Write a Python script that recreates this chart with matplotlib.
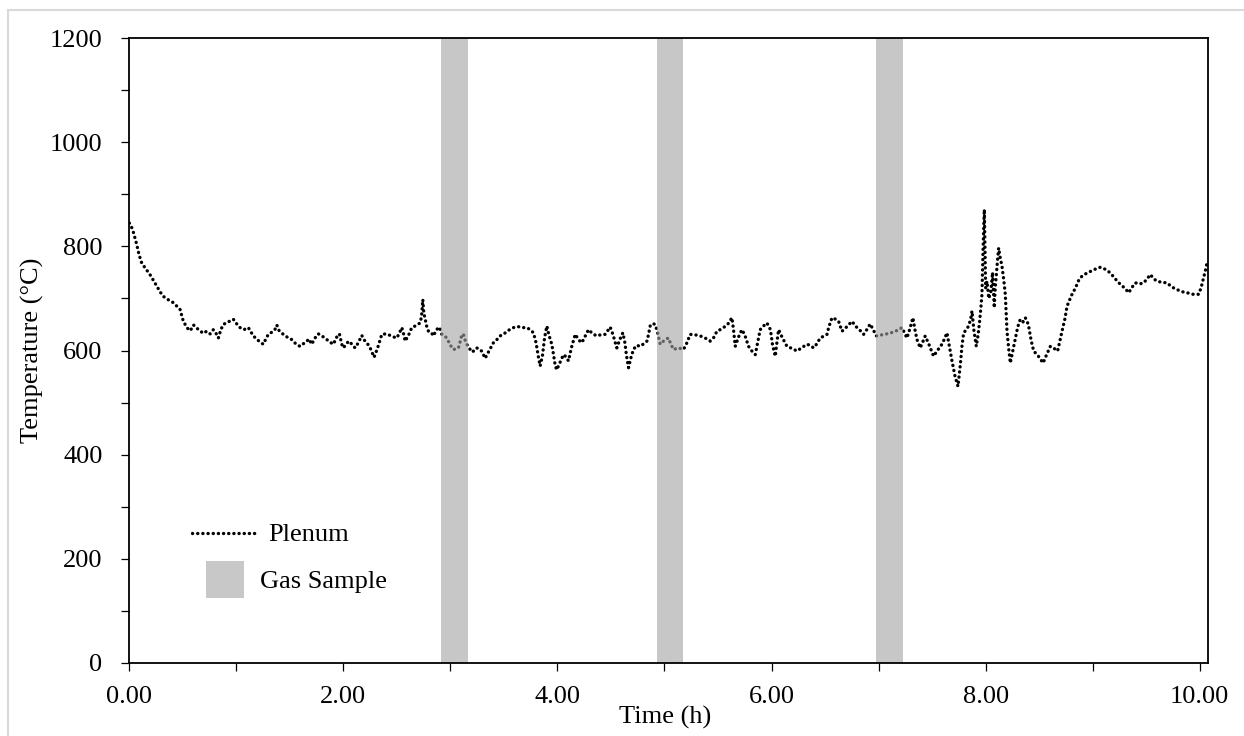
import matplotlib
matplotlib.use("Agg")
import matplotlib.pyplot as plt
from matplotlib.patches import Rectangle
from matplotlib.lines import Line2D
from matplotlib.ticker import MultipleLocator, FormatStrFormatter

plt.rcParams['font.family'] = ['Liberation Serif', 'DejaVu Serif']

time_h = [0.00, 0.013, 0.04, 0.069, 0.09, 0.116, 0.15, 0.193, 0.225, 0.256, 0.29, 0.318, 0.36, 0.411, 0.445,
          0.474, 0.505, 0.542, 0.57, 0.60, 0.63, 0.661, 0.69, 0.723, 0.755, 0.785, 0.81, 0.832, 0.855, 0.879,
          0.92, 0.95, 0.972, 1.00, 1.035, 1.07, 1.112, 1.135, 1.159, 1.20, 1.23, 1.252, 1.275, 1.299, 1.33,
          1.36, 1.378, 1.40, 1.439, 1.48, 1.518, 1.55, 1.575, 1.596, 1.62, 1.658, 1.68, 1.704, 1.735, 1.766,
          1.80, 1.845, 1.875, 1.907, 1.935, 1.963, 1.985, 2.00, 2.025, 2.05, 2.08, 2.109, 2.14, 2.172, 2.195,
          2.219, 2.25, 2.287, 2.32, 2.359, 2.40, 2.437, 2.47, 2.499, 2.52, 2.546, 2.565, 2.577, 2.61, 2.639,
          2.68, 2.717, 2.73, 2.742, 2.752, 2.764, 2.78, 2.795, 2.82, 2.841, 2.87, 2.897, 2.92, 2.945, 2.966,
          3.00, 3.028, 3.05, 3.075, 3.095, 3.107, 3.122, 3.14, 3.153, 3.184, 3.20, 3.225, 3.247, 3.27, 3.293,
          3.324, 3.35, 3.375, 3.402, 3.43, 3.464, 3.495, 3.53, 3.56, 3.589, 3.63, 3.67, 3.714, 3.745, 3.776,
          3.80, 3.82, 3.838, 3.86, 3.88, 3.901, 3.92, 3.947, 3.965, 3.98, 3.994, 4.02, 4.056, 4.08, 4.103,
          4.13, 4.166, 4.20, 4.228, 4.26, 4.29, 4.33, 4.368, 4.40, 4.446, 4.47, 4.493, 4.52, 4.54, 4.555,
          4.58, 4.611, 4.63, 4.645, 4.664, 4.685, 4.71, 4.74, 4.773, 4.80, 4.836, 4.85, 4.866, 4.89, 4.913,
          4.935, 4.96, 5.00, 5.037, 5.06, 5.084, 5.13, 5.178, 5.21, 5.24, 5.29, 5.334, 5.38, 5.427, 5.46,
          5.49, 5.52, 5.551, 5.59, 5.63, 5.645, 5.661, 5.69, 5.723, 5.75, 5.785, 5.82, 5.848, 5.87, 5.894,
          5.93, 5.957, 5.99, 6.01, 6.035, 6.05, 6.066, 6.10, 6.144, 6.19, 6.238, 6.28, 6.331, 6.36, 6.393,
          6.42, 6.455, 6.49, 6.518, 6.535, 6.565, 6.60, 6.627, 6.658, 6.70, 6.751, 6.775, 6.798, 6.83, 6.86,
          6.89, 6.922, 6.95, 6.979, 7.03, 7.078, 7.15, 7.219, 7.24, 7.265, 7.29, 7.321, 7.34, 7.359, 7.389,
          7.41, 7.436, 7.47, 7.514, 7.55, 7.592, 7.615, 7.639, 7.66, 7.686, 7.715, 7.742, 7.764, 7.78, 7.795,
          7.82, 7.841, 7.86, 7.873, 7.89, 7.913, 7.93, 7.944, 7.955, 7.966, 7.977, 7.988, 7.995, 8.00, 8.013,
          8.03, 8.05, 8.065, 8.081, 8.09, 8.10, 8.112, 8.122, 8.135, 8.153, 8.17, 8.184, 8.20, 8.215, 8.231,
          8.25, 8.278, 8.30, 8.324, 8.35, 8.371, 8.39, 8.402, 8.425, 8.449, 8.49, 8.537, 8.57, 8.605, 8.64,
          8.673, 8.69, 8.714, 8.74, 8.761, 8.80, 8.839, 8.87, 8.901, 8.94, 8.979, 9.02, 9.072, 9.12, 9.166,
          9.21, 9.259, 9.30, 9.337, 9.37, 9.399, 9.44, 9.477, 9.51, 9.539, 9.57, 9.602, 9.65, 9.695, 9.74,
          9.789, 9.835, 9.882, 9.94, 9.991, 10.015, 10.037, 10.055, 10.069]

plenum_temp = [845, 842, 826, 804, 785, 768, 758, 746, 735, 724, 712, 704, 698, 692, 685,
               679, 656, 643, 638, 649, 643, 638, 633, 637, 632, 640, 633, 624, 640, 650,
               655, 657, 660, 652, 644, 640, 644, 636, 628, 620, 615, 612, 622, 631, 635,
               640, 649, 638, 631, 625, 621, 614, 610, 608, 612, 618, 622, 612, 624, 632,
               628, 621, 616, 612, 625, 632, 612, 605, 612, 618, 612, 605, 615, 629, 620,
               615, 605, 587, 605, 631, 632, 629, 626, 624, 632, 644, 630, 618, 630, 644,
               648, 653, 665, 698, 672, 660, 645, 637, 635, 628, 640, 645, 631, 628, 624,
               610, 602, 603, 605, 620, 631, 631, 618, 612, 602, 597, 600, 605, 601, 599,
               585, 595, 605, 615, 620, 628, 631, 637, 641, 644, 646, 644, 644, 640, 634,
               615, 590, 570, 590, 625, 647, 630, 612, 590, 570, 563, 575, 592, 588, 580,
               605, 631, 620, 615, 628, 640, 632, 628, 630, 631, 638, 645, 630, 615, 605,
               620, 634, 615, 590, 567, 585, 602, 610, 608, 612, 618, 630, 647, 652, 650,
               635, 612, 620, 624, 612, 602, 605, 602, 615, 631, 630, 628, 624, 618, 625,
               637, 640, 644, 650, 663, 640, 608, 625, 640, 630, 608, 598, 592, 615, 640,
               648, 653, 640, 610, 589, 615, 640, 625, 608, 604, 599, 605, 612, 610, 605,
               612, 624, 628, 631, 645, 663, 660, 656, 637, 645, 656, 650, 644, 638, 631,
               640, 651, 640, 628, 630, 632, 636, 644, 635, 624, 640, 663, 640, 621, 605,
               615, 628, 612, 589, 600, 612, 622, 634, 610, 580, 550, 531, 573, 610, 634,
               640, 647, 660, 676, 640, 608, 630, 656, 680, 708, 800, 871, 790, 720, 733,
               700, 714, 750, 682, 720, 746, 775, 797, 780, 762, 735, 708, 637, 605, 576,
               595, 624, 645, 660, 655, 663, 655, 647, 620, 599, 590, 576, 592, 608, 604,
               599, 615, 637, 660, 685, 705, 720, 735, 743, 748, 752, 756, 760, 756, 749,
               738, 727, 720, 711, 722, 730, 728, 730, 738, 746, 738, 733, 731, 730, 722,
               717, 713, 711, 708, 708, 722, 740, 755, 769]

sample_start = [2.913, 4.926, 6.98]
sample_end = [3.163, 5.174, 7.23]

x_ticks = [0, 2, 4, 6, 8, 10]
y_ticks = [0, 200, 400, 600, 800, 1000, 1200]

W, H = 1244, 736
fig = plt.figure(figsize=(W / 100, H / 100), dpi=100)
ax = fig.add_axes([129.3 / W, 1 - 662.7 / H, (1207.7 - 129.3) / W, (662.7 - 38.3) / H])

# figure border
fig.patches.append(Rectangle((8 / W, -0.05), 1.1, 1 - 10 / H + 0.05, transform=fig.transFigure,
                             fill=False, edgecolor='#d9d9d9', linewidth=1.5, zorder=0))

dot_style = (0, (0.05, 1.5))
ax.plot(time_h, plenum_temp, color='black', linewidth=2.4, linestyle=dot_style,
        dash_capstyle='round', zorder=2)

for s, e in zip(sample_start, sample_end):
    ax.axvspan(s, e, color='#a3a3a3', alpha=0.6, linewidth=0, zorder=3)

ax.set_xlim(0, 10.075)
ax.set_ylim(0, 1200)
ax.set_xticks(x_ticks)
ax.xaxis.set_major_formatter(FormatStrFormatter('%.2f'))
ax.xaxis.set_minor_locator(MultipleLocator(1))
ax.set_yticks(y_ticks)
ax.yaxis.set_minor_locator(MultipleLocator(100))

for sp in ax.spines.values():
    sp.set_linewidth(1.3)
    sp.set_color('black')
    sp.set_zorder(5)

ax.tick_params(axis='both', which='both', direction='out', length=5.8, width=0.9, colors='black')
ax.tick_params(axis='x', which='major', labelsize=19, pad=11)
ax.tick_params(axis='y', which='major', labelsize=19, pad=13.5)

ax.set_xlabel('Time (h)', fontsize=19)
ax.set_ylabel('Temperature (°C)', fontsize=19)
ax.xaxis.set_label_coords(0.497, -0.069)
ax.yaxis.set_label_coords(-0.079, 0.5)

# legend
ax.add_line(Line2D([0.0581, 0.1193], [0.2077, 0.2077], transform=ax.transAxes, color='black',
                   linewidth=2.4, linestyle=dot_style, dash_capstyle='round'))
ax.text(0.1286, 0.1955, 'Plenum', transform=ax.transAxes, fontsize=19, va='baseline', ha='left')
ax.add_patch(Rectangle((0.0711, 0.1037), 0.0352, 0.0593, transform=ax.transAxes,
                       facecolor='#c8c8c8', edgecolor='none'))
ax.text(0.1212, 0.1196, 'Gas Sample', transform=ax.transAxes, fontsize=19, va='baseline', ha='left')

fig.savefig('out.png', dpi=100)
